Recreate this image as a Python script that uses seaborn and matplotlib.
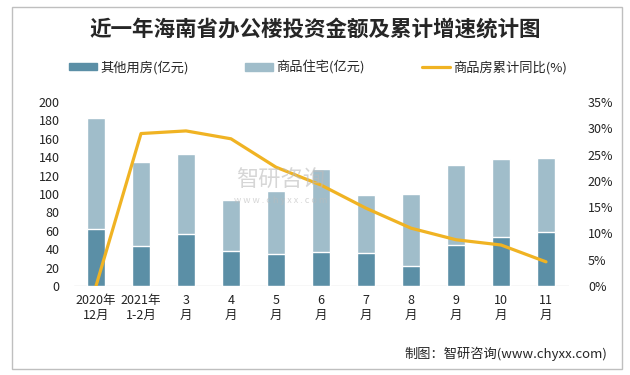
import matplotlib.pyplot as plt
import seaborn as sns
import pandas as pd
from matplotlib.patches import Patch, Rectangle
from matplotlib.lines import Line2D

months = ["2020年\n12月", "2021年\n1-2月", "3\n月", "4\n月", "5\n月", "6\n月",
          "7\n月", "8\n月", "9\n月", "10\n月", "11\n月"]
other = [61.5, 43, 57, 37.6, 34.4, 36.5, 35.4, 21.4, 44.1, 52.8, 58.2]
residential = [121, 92, 86, 56.4, 69.4, 91.1, 64, 79, 87.9, 85.7, 81.3]
growth = [0, 29.0, 29.5, 28.0, 22.6, 19.2, 14.8, 11.0, 8.8, 7.8, 4.6]

df = pd.DataFrame({"month": months, "other": other,
                   "residential": residential, "growth": growth})
df["total"] = df["other"] + df["residential"]

c_other = "#5B8FA6"
c_res = "#A0BDCA"
c_line = "#F0B323"

sns.set_style("white")
plt.rcParams["font.family"] = ["Noto Sans CJK SC", "DejaVu Sans"]

fig = plt.figure(figsize=(6.3, 3.75), dpi=100)
ax = fig.add_axes([73.5 / 630, 89 / 375, 495 / 630, 184 / 375])

sns.barplot(data=df, x="month", y="total", color=c_res, saturation=1,
            width=0.4, ax=ax)
sns.barplot(data=df, x="month", y="other", color=c_other, saturation=1,
            width=0.4, ax=ax)

ax2 = ax.twinx()
sns.lineplot(x=df.index, y=df["growth"], color=c_line, lw=2.3, ax=ax2)

ax.set_xlim(-0.5, 10.5)
ax.set_ylim(0, 200)
ax.set_yticks(range(0, 201, 20))
ax2.set_ylim(0, 35)
ax2.set_yticks(range(0, 36, 5))
ax2.set_yticklabels([f"{v}%" for v in range(0, 36, 5)])
ax.set_xlabel("")
ax.set_ylabel("")
ax2.set_ylabel("")

for a in (ax, ax2):
    for s in a.spines.values():
        s.set_visible(False)
    a.tick_params(length=0, labelsize=9, colors="#222222")
ax.tick_params(axis="y", pad=10)
ax2.tick_params(axis="y", pad=14)
ax.tick_params(axis="x", pad=6, labelsize=9)
ax.axhline(0, color="#D9D9D9", lw=1, zorder=0)

# watermark
fig.text(0.445, 0.52, "智研咨询", fontsize=16, color="#BBBBBB", alpha=0.6,
         ha="center", va="center")
fig.text(0.445, 0.465, "w w w . c h y x x . c o m", fontsize=6.5,
         color="#BBBBBB", alpha=0.6, ha="center", va="center")

fig.text(0.5, 1 - 30 / 375, "近一年海南省办公楼投资金额及累计增速统计图",
         fontsize=15.5, fontweight="bold", ha="center", va="center")

handles = [Patch(color=c_other, label="其他用房(亿元)"),
           Patch(color=c_res, label="商品住宅(亿元)"),
           Line2D([], [], color=c_line, lw=2.3, label="商品房累计同比(%)")]
starts = [69, 245, 422]
for h, x0 in zip(handles, starts):
    leg = fig.legend(handles=[h], loc="center left",
                     bbox_to_anchor=(x0 / 630, 1 - 67.5 / 375),
                     frameon=False, fontsize=9.5, handlelength=2.1,
                     handleheight=0.5, handletextpad=0.3, borderpad=0,
                     borderaxespad=0)

fig.text(607 / 630, 1 - 354 / 375, "制图：智研咨询(www.chyxx.com)",
         fontsize=9.5, ha="right", va="center")

fig.patches.append(Rectangle((12 / 630, 6 / 375), 610 / 630, 362 / 375,
                             transform=fig.transFigure, fill=False,
                             edgecolor="#BFBFBF", lw=1))

fig.savefig("out.png", dpi=100)
